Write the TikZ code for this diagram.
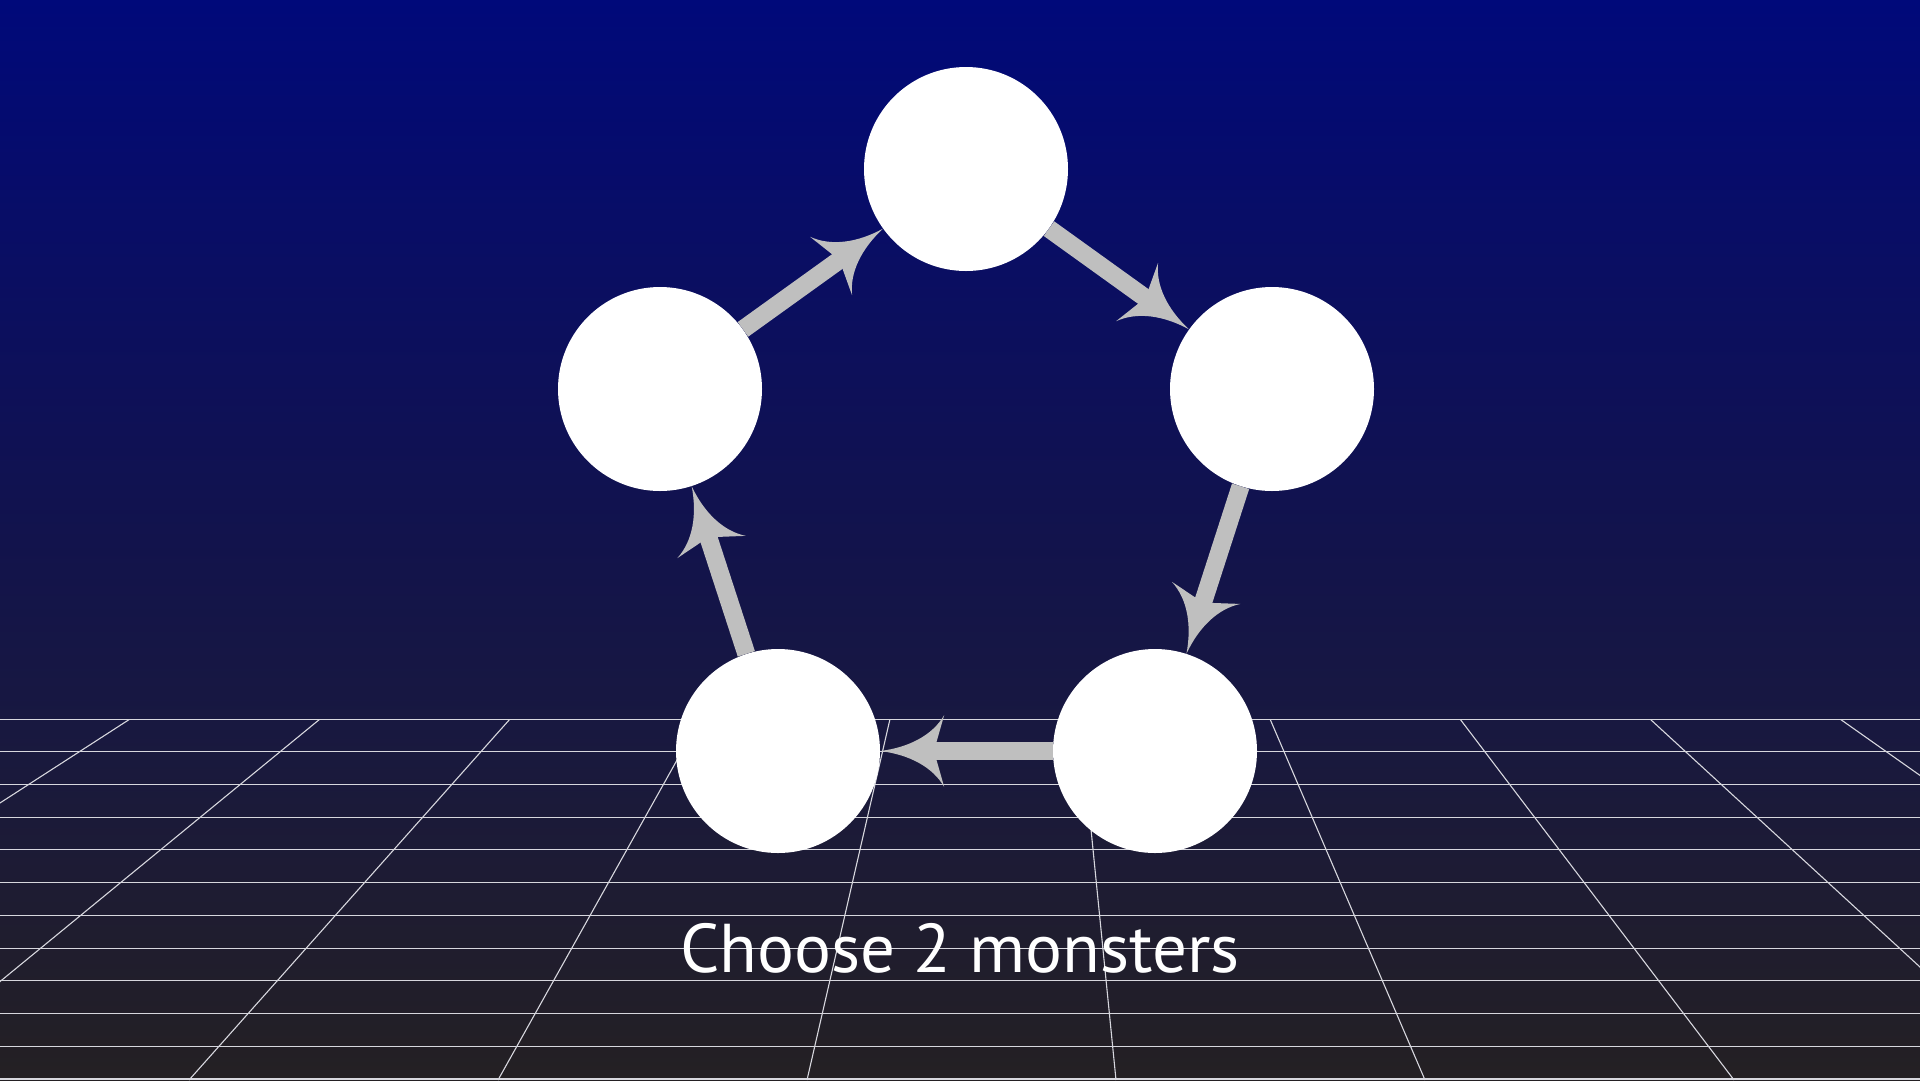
\documentclass[tikz,border=0pt]{standalone}
\usepackage{fontspec}
\setmainfont{PT Sans}
\usepackage{xcolor}
\definecolor{bgtop}{RGB}{0,9,122}
\definecolor{bgupper}{RGB}{10,14,98}
\definecolor{bgmid}{RGB}{18,19,76}
\definecolor{bghorizon}{RGB}{24,24,64}
\definecolor{bgbot}{RGB}{36,32,35}
\definecolor{arrgray}{RGB}{191,191,191}
\definecolor{gridgray}{RGB}{215,215,222}
\usetikzlibrary{arrows.meta,positioning}

% path bbox is mapped onto 25bp..75bp
\pgfdeclareverticalshading{skyshade}{100bp}{%
  color(0bp)=(bgbot); color(25bp)=(bgbot); color(41.5bp)=(bghorizon);
  color(50bp)=(bgmid); color(62.5bp)=(bgupper); color(75bp)=(bgtop);
  color(100bp)=(bgtop)}

\pgfdeclarearrow{
  name = Swoop,
  defaults = {length = 64pt, width = 72pt},
  setup code = {
    \pgfarrowssettipend{0pt}
    \pgfarrowssetlineend{-.78\pgfarrowlength}
    \pgfarrowssetvisualbackend{-.84\pgfarrowlength}
    \pgfarrowssetbackend{-\pgfarrowlength}
    \pgfarrowshullpoint{0pt}{0pt}
    \pgfarrowsupperhullpoint{-\pgfarrowlength}{.5\pgfarrowwidth}
    \pgfarrowssavethe\pgfarrowlength
    \pgfarrowssavethe\pgfarrowwidth
  },
  drawing code = {
    \pgfpathmoveto{\pgfpointorigin}
    \pgfpathcurveto
      {\pgfpoint{-.45\pgfarrowlength}{.05\pgfarrowwidth}}
      {\pgfpoint{-.82\pgfarrowlength}{.22\pgfarrowwidth}}
      {\pgfpoint{-\pgfarrowlength}{.5\pgfarrowwidth}}
    \pgfpathlineto{\pgfpoint{-.84\pgfarrowlength}{0pt}}
    \pgfpathlineto{\pgfpoint{-\pgfarrowlength}{-.5\pgfarrowwidth}}
    \pgfpathcurveto
      {\pgfpoint{-.82\pgfarrowlength}{-.22\pgfarrowwidth}}
      {\pgfpoint{-.45\pgfarrowlength}{-.05\pgfarrowwidth}}
      {\pgfpointorigin}
    \pgfpathclose
    \pgfusepathqfill
  },
  parameters = {\the\pgfarrowlength,\the\pgfarrowwidth},
}

\begin{document}
\begin{tikzpicture}[x=1pt, y=-1pt,
  monster/.style={circle, fill=white, minimum size=204pt, inner sep=0pt},
  arr/.style={-{Swoop}, line width=18pt, draw=arrgray},
  gridline/.style={draw=gridgray, line width=1.1pt},
  caption/.style={font=\fontsize{69}{80}\selectfont, text=white}
]
\useasboundingbox (0,0) rectangle (1920,1080);

% Background
\shade[shading=skyshade] (0,0) rectangle (1920,1080);

% Floor grid
\begin{scope}
\clip (0,719) rectangle (1920,1080);
\foreach \i in {0,...,11}
  \draw[gridline] (0,{719+32.73*\i}) -- (1920,{719+32.73*\i});
\foreach \k in {-5,...,4}
  \draw[gridline] ({1080+190*\k},719) -- ({1116+309*\k},1080);
\end{scope}

% Monsters
\node[monster] (mtop) at (966,169) {};
\node[monster] (mright) at (1272,389) {};
\node[monster] (mbotright) at (1155,751) {};
\node[monster] (mbotleft) at (778,751) {};
\node[monster] (mleft) at (660,389) {};

% Cycle
\draw[arr] (mtop) -- (mright);
\draw[arr] (mright) -- (mbotright);
\draw[arr] (mbotright) -- (mbotleft);
\draw[arr] (mbotleft) -- (mleft);
\draw[arr] (mleft) -- (mtop);

% Caption
\node[caption, anchor=base] (prompt) at (960,972) {Choose 2 monsters};
\end{tikzpicture}
\end{document}
